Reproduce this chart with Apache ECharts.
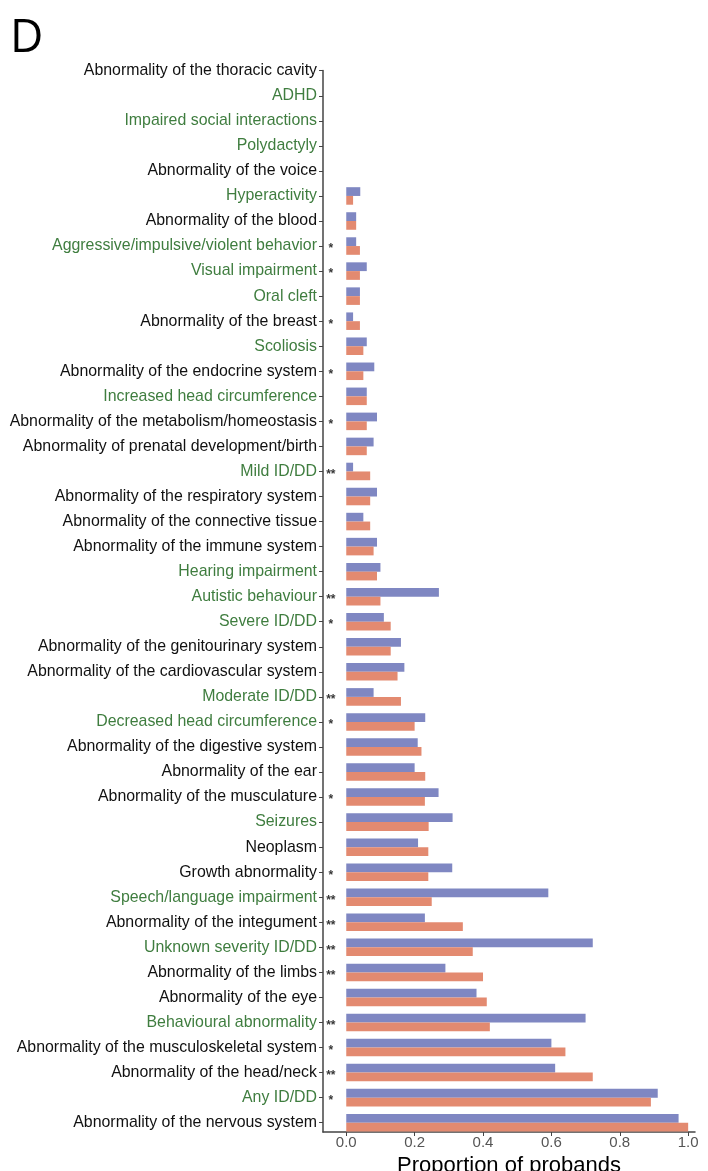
<!DOCTYPE html>
<html>
<head>
<meta charset="utf-8">
<script src="https://cdn.jsdelivr.net/npm/echarts@6/dist/echarts.min.js"></script>
<style>
html,body{margin:0;padding:0;background:#fff;}
#c{width:708px;height:1171px;}
</style>
</head>
<body>
<div id="c"></div>
<script>
// Categories, top to bottom
const categories = [
  "Abnormality of the thoracic cavity","ADHD","Impaired social interactions","Polydactyly",
  "Abnormality of the voice","Hyperactivity","Abnormality of the blood",
  "Aggressive/impulsive/violent behavior","Visual impairment","Oral cleft",
  "Abnormality of the breast","Scoliosis","Abnormality of the endocrine system",
  "Increased head circumference","Abnormality of the metabolism/homeostasis",
  "Abnormality of prenatal development/birth","Mild ID/DD","Abnormality of the respiratory system",
  "Abnormality of the connective tissue","Abnormality of the immune system","Hearing impairment",
  "Autistic behaviour","Severe ID/DD","Abnormality of the genitourinary system",
  "Abnormality of the cardiovascular system","Moderate ID/DD","Decreased head circumference",
  "Abnormality of the digestive system","Abnormality of the ear","Abnormality of the musculature",
  "Seizures","Neoplasm","Growth abnormality","Speech/language impairment",
  "Abnormality of the integument","Unknown severity ID/DD","Abnormality of the limbs",
  "Abnormality of the eye","Behavioural abnormality","Abnormality of the musculoskeletal system",
  "Abnormality of the head/neck","Any ID/DD","Abnormality of the nervous system"
];
// 1 = green label, 0 = black label
const greenLabel = [0,1,1,1,0,1,0,1,1,1,0,1,0,1,0,0,1,0,0,0,1,1,1,0,0,1,1,0,0,0,1,0,0,1,0,1,0,0,1,0,0,1,0];
const significance = ["","","","","","","","*","*","","*","","*","","*","","**","","","","",
  "**","*","","","**","*","","","*","","","*","**","**","**","**","","**","*","**","*",""];
const blueValues = [0,0,0,0,0,0.041,0.029,0.029,0.06,0.04,0.02,0.06,0.082,0.06,0.09,0.08,0.02,0.09,
  0.05,0.09,0.10,0.271,0.11,0.16,0.17,0.08,0.231,0.209,0.20,0.27,0.311,0.21,0.31,0.591,0.23,0.721,
  0.29,0.381,0.70,0.60,0.611,0.911,0.972];
const orangeValues = [0,0,0,0,0,0.02,0.029,0.04,0.04,0.04,0.04,0.05,0.05,0.06,0.06,0.06,0.07,0.07,
  0.07,0.08,0.09,0.10,0.13,0.13,0.15,0.16,0.20,0.22,0.231,0.23,0.241,0.24,0.24,0.25,0.341,0.37,
  0.40,0.411,0.42,0.641,0.721,0.891,1.0];
const xTicks = [0,0.2,0.4,0.6,0.8,1.0];

const GREEN = '#3f7d3f', BLACK = '#111111', AXIS = '#444';
const X_MIN = -0.068, X_MAX = 1.02;
const chart = echarts.init(document.getElementById('c'));
const yData = categories.map((c,i)=>({value:c,textStyle:{color:greenLabel[i]?GREEN:BLACK}}));
const starData = [];
significance.forEach((s,i)=>{ if(s) starData.push({value:[-0.045, categories[i]], star:s}); });

chart.setOption({
  animation:false,
  textStyle:{fontFamily:'Liberation Sans, Arial, sans-serif'},
  graphic:[{type:'text',left:10,top:16,style:{text:'D',font:'46px "Open Sans", "Liberation Sans", sans-serif',fill:'#000'}}],
  grid:[
    // data grid: category bands
    {left:323,right:13,top:58.2,bottom:35.8,containLabel:false,outerBoundsMode:'none'},
    // axis-frame grid: axis lines start at first row and end at x axis
    {left:323,right:13,top:70.5,bottom:39,containLabel:false,outerBoundsMode:'none'}
  ],
  xAxis:[
    {gridIndex:0,type:'value',min:X_MIN,max:X_MAX,show:false,splitLine:{show:false}},
    {gridIndex:1,type:'value',min:X_MIN,max:X_MAX,
      axisLine:{show:true,onZero:false,lineStyle:{color:AXIS,width:1.5}},
      axisTick:{show:true,length:4,customValues:xTicks,lineStyle:{color:AXIS}},
      axisLabel:{customValues:xTicks,formatter:v=>v.toFixed(1),color:'#555',fontSize:15,margin:3},
      splitLine:{show:false},
      name:'Proportion of probands',nameLocation:'middle',nameGap:21,
      nameTextStyle:{color:'#000',fontSize:22}}
  ],
  yAxis:[
    {gridIndex:0,type:'category',inverse:true,data:yData,
      axisLine:{show:false,onZero:false},
      axisTick:{show:true,length:4,alignWithLabel:true,lineStyle:{color:AXIS}},
      axisLabel:{fontSize:15.9,margin:6,interval:0}},
    {gridIndex:1,type:'value',min:0,max:1,
      axisLine:{show:true,onZero:false,lineStyle:{color:AXIS,width:1.5}},
      axisTick:{show:false},axisLabel:{show:false},splitLine:{show:false}}
  ],
  series:[
    {type:'bar',xAxisIndex:0,yAxisIndex:0,data:blueValues,itemStyle:{color:'#7f87c2'},barGap:'0%',barCategoryGap:'30%'},
    {type:'bar',xAxisIndex:0,yAxisIndex:0,data:orangeValues,itemStyle:{color:'#e38a70'},barGap:'0%',barCategoryGap:'30%'},
    {type:'scatter',xAxisIndex:0,yAxisIndex:0,data:starData,symbolSize:0,silent:true,
     label:{show:true,position:'inside',formatter:p=>p.data.star,color:'#000',fontSize:12,fontWeight:'bold',offset:[0,3]}}
  ]
});
</script>
</body>
</html>
